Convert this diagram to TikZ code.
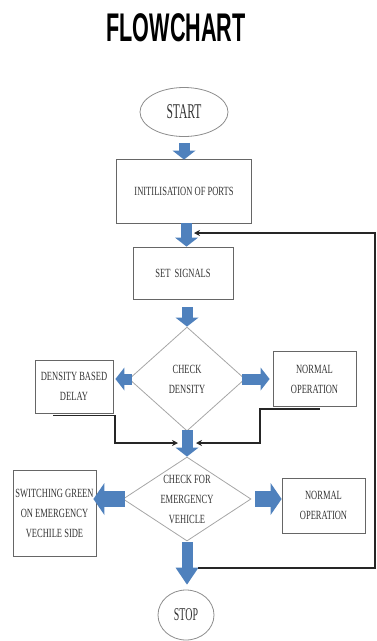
\documentclass[tikz,border=0pt]{standalone}
\usepackage{fontspec}
\setmainfont{Liberation Serif}
\newfontfamily\boxfont[FakeStretch=0.68]{Liberation Serif}
\newfontfamily\endfont[FakeStretch=0.55]{Liberation Serif}
\newfontfamily\titlefont[FakeStretch=0.54]{Liberation Sans}
\usetikzlibrary{shapes.geometric,arrows.meta,calc}
\definecolor{arrowblue}{RGB}{79,129,189}
\tikzset{
    boxtext/.style   = {font=\boxfont\fontsize{12.5}{20}\selectfont,
                        text=black!80, align=center},
    procbox/.style   = {draw=black!60, line width=0.8pt, rectangle,
                        inner sep=0pt, boxtext},
    termnode/.style  = {draw=black!45, ellipse, inner sep=0pt,
                        line width=0.8pt, text=black!80},
    decnode/.style   = {draw=black!35, diamond, inner sep=0pt, line width=0.8pt},
    blockarrow/.style     = {draw=arrowblue, line width=11pt,
                        -{Triangle[width=23pt,length=9pt,line width=0pt]}},
    longblockarrow/.style = {draw=arrowblue, line width=11pt,
                        -{Triangle[width=23pt,length=17pt,line width=0pt]}},
    wideblockarrow/.style = {draw=arrowblue, line width=16pt,
                        -{Triangle[width=32pt,length=11pt,line width=0pt]}},
    fline/.style     = {draw=black!85, line width=1.3pt},
    ftip/.style      = {-{Stealth[length=6pt,width=6pt]}},
  }

\begin{document}
\begin{tikzpicture}[x=1pt,y=-1pt]
    \useasboundingbox (0,0) rectangle (377,641);

    % Title
    \node[font=\titlefont\bfseries\fontsize{40}{40}\selectfont] (title) at (176,28) {FLOWCHART};

    % Terminals and processes
    \node[termnode, minimum width=88pt, minimum height=49pt,
          font=\endfont\fontsize{21}{21}\selectfont] (start) at (184,112) {START};
    \node[procbox, minimum width=135pt, minimum height=64pt] (init) at (184,191) {INITILISATION OF PORTS};
    \node[procbox, minimum width=100pt, minimum height=52pt] (sig) at (183,273) {SET\ \ SIGNALS};

    % First decision and its branches
    \node[decnode, minimum width=116pt, minimum height=104pt,
          label={[boxtext]center:CHECK\\DENSITY}] (dchk) at (187,379) {};
    \node[procbox, minimum width=78pt, minimum height=53pt] (dbox) at (74,386.5) {DENSITY BASED\\DELAY};
    \node[procbox, minimum width=83pt, minimum height=55pt] (norm1) at (314.5,379) {NORMAL\\OPERATION};

    % Second decision and its branches
    \node[decnode, minimum width=128pt, minimum height=84pt,
          label={[boxtext]center:CHECK FOR\\EMERGENCY\\VEHICLE}] (echk) at (187,499) {};
    \node[procbox, minimum width=83pt, minimum height=86pt] (swbox) at (54.5,513.5) {SWITCHING GREEN\\ON EMERGENCY\\VECHILE SIDE};
    \node[procbox, minimum width=83pt, minimum height=55pt] (norm2) at (323.5,505.5) {NORMAL\\OPERATION};
    \node[termnode, minimum width=56pt, minimum height=50pt,
          font=\endfont\fontsize{18}{18}\selectfont] (stop) at (186,615) {STOP};

    % Block arrows
    \draw[blockarrow] ($(start.south)+(0,6)$) -- ($(init.north)+(0,1)$);
    \draw[blockarrow] ([xshift=2.5pt]init.south) -- ([xshift=2.5pt]init.south |- sig.north);
    \draw[blockarrow] ($(dchk.north |- sig.south)+(0,8)$) -- (dchk.north);
    \draw[blockarrow] ($(dchk.west)+(3,0)$) -- ($(dbox.east |- dchk.west)+(2,0)$);
    \draw[blockarrow] ($(dchk.east)+(-3,0)$) -- ($(norm1.west |- dchk.east)+(-3,0)$);
    \draw[blockarrow] ($(dchk.south)+(0,-1)$) -- (echk.north);
    \draw[wideblockarrow] ($(echk.west)+(2,0)$) -- ($(swbox.east |- echk.west)+(-3,0)$);
    \draw[wideblockarrow] ($(echk.east)+(4,0)$) -- (norm2.west |- echk.east);
    \draw[longblockarrow] ($(echk.south)+(0,1)$) -- ($(echk.south |- stop.north)+(0,-5)$);

    % Thin return lines
    \coordinate (mergeL) at (178,443);
    \coordinate (mergeR) at (196,443);
    \coordinate (loopin) at (198,568);
    \coordinate (edge) at (375,233);
    \coordinate (loopout) at (194,233);
    \draw[fline, ftip] ($(dbox.south)+(-21,2)$) -| ($(mergeL)+(-63,0)$) -- (mergeL);
    \draw[fline, ftip] ($(norm1.south)+(5,2)$) -| ($(mergeR)+(64,0)$) -- (mergeR);
    \draw[fline, ftip] (loopin) -| (edge) -- (loopout);
\end{tikzpicture}
\end{document}
